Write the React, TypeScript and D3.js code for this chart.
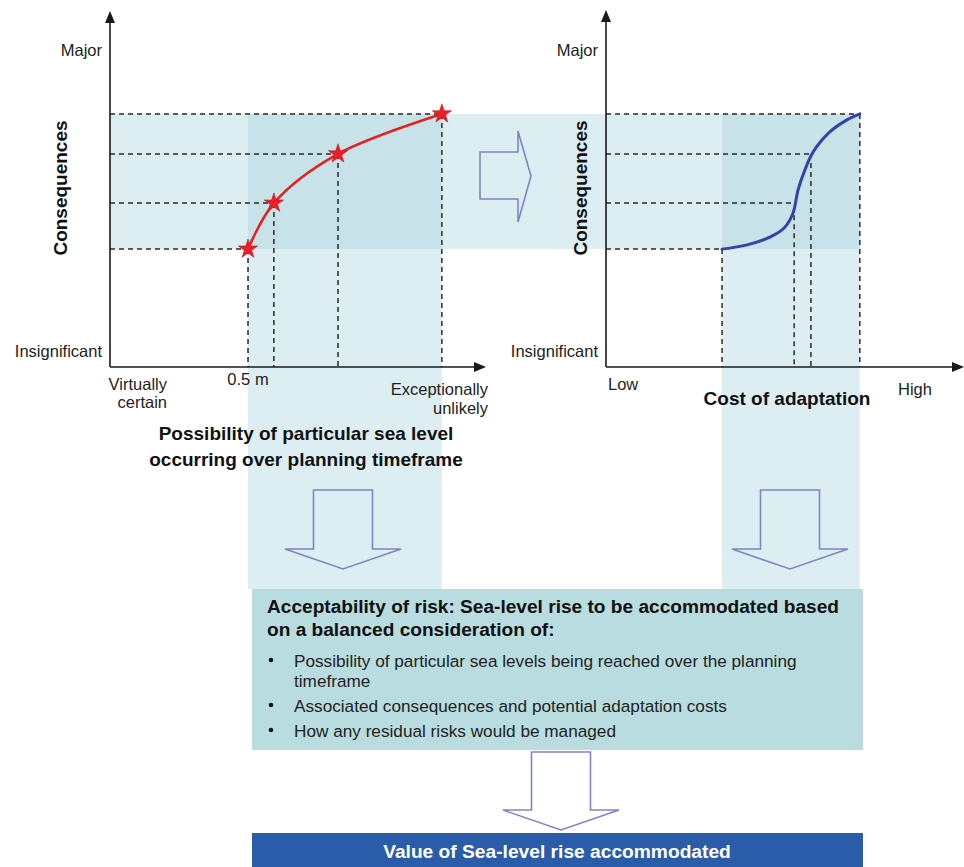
import React from "react";
import * as d3 from "d3";

// ---- data ----
const consequenceLevels = [33.3, 46.3, 60.2, 71.5];
const probabilityAtLevel = [36.8, 43.7, 60.8, 88.5];

const costCurveX = [32.5, 39.5, 45.9, 50.1, 52.4, 53.8, 55.7, 58.0, 62.7, 67.5, 71.1];
const costCurveY = [33.3, 34.5, 36.7, 39.5, 43.5, 50.0, 55.6, 60.7, 66.4, 69.8, 71.5];
const costAtLevel = [32.5, 52.4, 57.6, 71.1];
const costDropX = [32.5, 52.7, 57.4, 71.1];
const costDropY = [33.3, 42.9, 57.6, 71.5];

const yLabels = ["Major", "Insignificant"];
const leftXLabels = ["Virtually|certain", "0.5 m", "Exceptionally|unlikely"];
const rightXLabels = ["Low", "High"];
const bullets = [
  "Possibility of particular sea levels being reached over the planning|timeframe",
  "Associated consequences and potential adaptation costs",
  "How any residual risks would be managed",
];

const W = 964;
const H = 867;
const FONT = "'Liberation Sans', Arial, Helvetica, sans-serif";
const LIGHT = "#ddeef3";
const DARK = "#c8e2e9";
const ARROW = "#7f84c6";
const AXIS = "#1a1a1a";
const DASH = "#2b2b2b";

export default function App() {
  const y = d3.scaleLinear().domain([0, 100]).range([367, 13]);
  const xL = d3.scaleLinear().domain([0, 100]).range([110, 485]);
  const xR = d3.scaleLinear().domain([0, 100]).range([606, 963]);

  const leftPts = probabilityAtLevel.map((p, i) => [xL(p), y(consequenceLevels[i])] as [number, number]);
  const rightPts = costCurveX.map((c, i) => [xR(c), y(costCurveY[i])] as [number, number]);
  const lineGen = d3.line().curve(d3.curveCatmullRom.alpha(0.5));
  const star = d3.symbol().type(d3.symbolStar).size(115)();

  const topY = y(consequenceLevels[3]);
  const botY = y(consequenceLevels[0]);
  const lx0 = xL(probabilityAtLevel[0]);
  const lx1 = xL(probabilityAtLevel[3]);
  const rx0 = xR(costAtLevel[0]);
  const rx1 = xR(costAtLevel[3]);
  const boxTop = 589;

  const axis = (ox: number, oy: number, xEnd: number, yEnd: number) => (
    <g>
      <line x1={ox} y1={oy} x2={ox} y2={yEnd + 10} stroke={AXIS} strokeWidth={1.6} />
      <path d={`M${ox - 5},${yEnd + 12} L${ox},${yEnd} L${ox + 5},${yEnd + 12} Z`} fill={AXIS} />
      <line x1={ox} y1={oy} x2={xEnd - 10} y2={oy} stroke={AXIS} strokeWidth={1.6} />
      <path d={`M${xEnd - 12},${oy - 5} L${xEnd},${oy} L${xEnd - 12},${oy + 5} Z`} fill={AXIS} />
    </g>
  );

  const downArrow = (cx: number, top: number, tip: number) => {
    const bw = 29.5, hw = 58, hy = tip - 20;
    return (
      <path
        d={`M${cx - bw},${top} L${cx + bw},${top} L${cx + bw},${hy} L${cx + hw},${hy} L${cx},${tip} L${cx - hw},${hy} L${cx - bw},${hy} Z`}
        fill="none" stroke={ARROW} strokeWidth={1.6} strokeLinejoin="miter"
      />
    );
  };

  const dash = "5,4";

  return (
    <svg width={W} height={H} style={{ position: "absolute", left: 0, top: 0, background: "#fff" }} fontFamily={FONT}>
      {/* shaded bands */}
      <rect x={xL(0)} y={topY} width={rx1 - xL(0)} height={botY - topY} fill={LIGHT} />
      <rect x={lx0} y={topY} width={lx1 - lx0} height={boxTop - topY} fill={LIGHT} />
      <rect x={rx0} y={topY} width={rx1 - rx0} height={boxTop - topY} fill={LIGHT} />
      <rect x={lx0} y={topY} width={lx1 - lx0} height={botY - topY} fill={DARK} />
      <rect x={rx0} y={topY} width={rx1 - rx0} height={botY - topY} fill={DARK} />

      {/* left chart dashed guides */}
      {consequenceLevels.map((c, i) => (
        <g key={"l" + i}>
          <line x1={xL(0)} x2={xL(probabilityAtLevel[i])} y1={y(c)} y2={y(c)} stroke={DASH} strokeWidth={1.5} strokeDasharray={dash} />
          <line x1={xL(probabilityAtLevel[i])} x2={xL(probabilityAtLevel[i])} y1={y(c)} y2={y(0)} stroke={DASH} strokeWidth={1.5} strokeDasharray={dash} />
        </g>
      ))}
      {/* right chart dashed guides */}
      {consequenceLevels.map((c, i) => (
        <line key={"rh" + i} x1={xR(0)} x2={xR(costAtLevel[i])} y1={y(c)} y2={y(c)} stroke={DASH} strokeWidth={1.5} strokeDasharray={dash} />
      ))}
      {costDropX.map((c, i) => (
        <line key={"rv" + i} x1={xR(c)} x2={xR(c)} y1={y(costDropY[i])} y2={y(0)} stroke={DASH} strokeWidth={1.5} strokeDasharray={dash} />
      ))}

      {/* axes */}
      {axis(xL(0), y(0), 486, 11)}
      {axis(xR(0), y(0), 964, 10)}

      {/* curves */}
      <path d={lineGen(leftPts) || ""} fill="none" stroke="#e3221f" strokeWidth={2.6} />
      {leftPts.map((p, i) => (
        <path key={"s" + i} d={star || ""} transform={`translate(${p[0]},${p[1]})`} fill="#e8202a" stroke="#c8141c" strokeWidth={0.6} />
      ))}
      <path d={lineGen(rightPts) || ""} fill="none" stroke="#3343a8" strokeWidth={3} strokeLinecap="round" />

      {/* y labels */}
      {yLabels.map((t, i) => (
        <g key={"yl" + i}>
          <text x={102} y={i === 0 ? 56 : 357} textAnchor="end" fontSize={16.5} fill="#222">{t}</text>
          <text x={598} y={i === 0 ? 56 : 357} textAnchor="end" fontSize={16.5} fill="#222">{t}</text>
        </g>
      ))}
      <text transform="translate(67,188) rotate(-90)" textAnchor="middle" fontSize={19} fontWeight="bold" fill="#111">Consequences</text>
      <text transform="translate(587,188) rotate(-90)" textAnchor="middle" fontSize={19} fontWeight="bold" fill="#111">Consequences</text>

      {/* left x labels */}
      <text x={167} y={390} textAnchor="end" fontSize={16.5} fill="#222">{leftXLabels[0].split("|")[0]}</text>
      <text x={167} y={408} textAnchor="end" fontSize={16.5} fill="#222">{leftXLabels[0].split("|")[1]}</text>
      <text x={xL(probabilityAtLevel[0])} y={385} textAnchor="middle" fontSize={16.5} fill="#222">{leftXLabels[1]}</text>
      <text x={488} y={395} textAnchor="end" fontSize={16.5} fill="#222">{leftXLabels[2].split("|")[0]}</text>
      <text x={488} y={414} textAnchor="end" fontSize={16.5} fill="#222">{leftXLabels[2].split("|")[1]}</text>
      <text x={306} y={440} textAnchor="middle" fontSize={19} fontWeight="bold" fill="#111">Possibility of particular sea level</text>
      <text x={306} y={466} textAnchor="middle" fontSize={19} fontWeight="bold" fill="#111">occurring over planning timeframe</text>

      {/* right x labels */}
      <text x={608} y={390} fontSize={16.5} fill="#222">{rightXLabels[0]}</text>
      <text x={898} y={395} fontSize={16.5} fill="#222">{rightXLabels[1]}</text>
      <text x={787} y={405} textAnchor="middle" fontSize={19} fontWeight="bold" fill="#111">Cost of adaptation</text>

      {/* right-pointing arrow between charts */}
      <path d="M480,152 L518,152 L518,131 L531,176 L518,222 L518,199 L480,199 Z" fill="none" stroke={ARROW} strokeWidth={1.6} />

      {/* down arrows */}
      {downArrow(343, 490, 569)}
      {downArrow(790, 490, 569)}

      {/* acceptability box */}
      <rect x={252} y={boxTop} width={611} height={161} fill="#b8dcdf" />
      <text x={267} y={613} fontSize={19.1} fontWeight="bold" fill="#111">Acceptability of risk: Sea-level rise to be accommodated based</text>
      <text x={267} y={636} fontSize={19.1} fontWeight="bold" fill="#111">on a balanced consideration of:</text>
      {(() => {
        const ys = [667, 712, 737];
        const out: React.ReactNode[] = [];
        bullets.forEach((b, i) => {
          const parts = b.split("|");
          out.push(<circle key={"b" + i} cx={271} cy={ys[i] - 7} r={2.3} fill="#111" />);
          parts.forEach((p, j) => {
            out.push(<text key={"bt" + i + "_" + j} x={294} y={ys[i] + j * 20} fontSize={17.2} fill="#222">{p}</text>);
          });
        });
        return out;
      })()}

      {/* bottom arrow */}
      {downArrow(561, 752, 830)}

      {/* result box */}
      <rect x={252} y={833} width={611} height={40} fill="#2a5ca9" />
      <text x={557} y={858} textAnchor="middle" fontSize={19.2} fontWeight="bold" fill="#fff">Value of Sea-level rise accommodated</text>
    </svg>
  );
}
